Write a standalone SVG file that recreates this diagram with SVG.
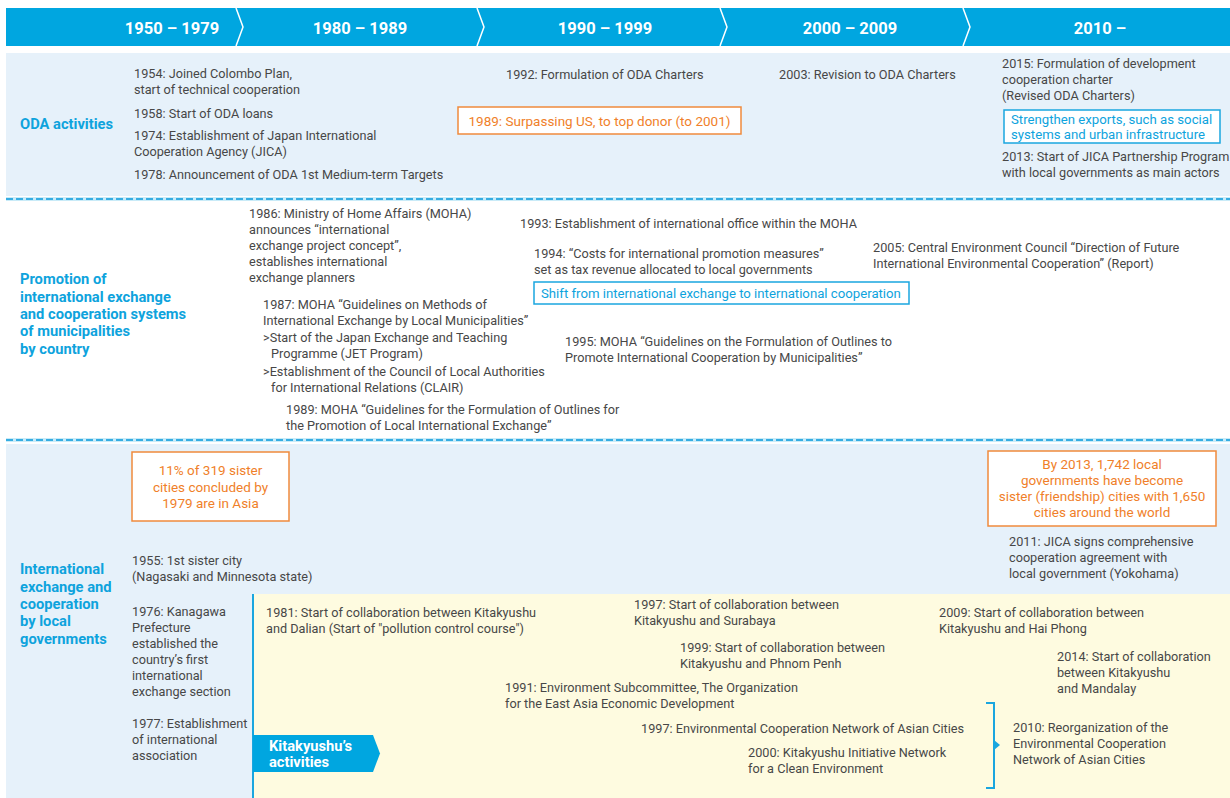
<svg xmlns="http://www.w3.org/2000/svg" width="1230" height="798" viewBox="0 0 1230 798">
<defs>
<style>
.t{font-family:Roboto,"Liberation Sans",sans-serif;font-size:12.7px;fill:#474747}
.h{font-family:Roboto,"Liberation Sans",sans-serif;font-size:16.5px;font-weight:bold;fill:#fff;text-anchor:middle}
.lb{font-family:Roboto,"Liberation Sans",sans-serif;font-size:14.7px;font-weight:bold;fill:#0ea3dd}
.o{font-family:Roboto,"Liberation Sans",sans-serif;font-size:13.5px;fill:#f07f2a}
.b{font-family:Roboto,"Liberation Sans",sans-serif;font-size:13.2px;fill:#0ea3dd}
.ob{fill:#fff;stroke:#f08a3c;stroke-width:1.5}
.bb{fill:#fff;stroke:#1aa6df;stroke-width:1.5}
.dash{stroke:#35ade2;stroke-width:2;stroke-dasharray:7 3;fill:none}
.halo{stroke:#c9ebf8;stroke-width:4;fill:none}
</style>
</defs>
<rect width="1230" height="798" fill="#fff"/>
<!-- header -->
<g id="header">
<rect x="6" y="8" width="1224" height="38" fill="#00a6e0"/>
<polyline points="236,8 243,27 236,46" fill="none" stroke="#fff" stroke-width="1.5"/>
<polyline points="477,8 484,27 477,46" fill="none" stroke="#fff" stroke-width="1.5"/>
<polyline points="720,8 727,27 720,46" fill="none" stroke="#fff" stroke-width="1.5"/>
<polyline points="963,8 970,27 963,46" fill="none" stroke="#fff" stroke-width="1.5"/>
<text class="h" x="172" y="34">1950 – 1979</text>
<text class="h" x="360" y="34">1980 – 1989</text>
<text class="h" x="605" y="34">1990 – 1999</text>
<text class="h" x="850" y="34">2000 – 2009</text>
<text class="h" x="1100" y="34">2010 –</text>
</g>
<!-- backgrounds -->
<rect x="6" y="53" width="1224" height="143" fill="#e6f1fa"/>
<line class="halo" x1="6" y1="199" x2="1230" y2="199"/>
<line class="dash" x1="6" y1="199" x2="1230" y2="199"/>
<line class="halo" x1="6" y1="440" x2="1230" y2="440"/>
<line class="dash" x1="6" y1="440" x2="1230" y2="440"/>
<rect x="6" y="444" width="1224" height="354" fill="#e6f1fa"/>
<rect x="253" y="594" width="977" height="204" fill="#fefbe0"/>
<line x1="253" y1="594" x2="253" y2="798" stroke="#1aa6df" stroke-width="2"/>

<!-- ODA row -->
<g id="oda-label"><text class="lb" x="20" y="129">ODA activities</text></g>
<g id="oda-1954"><text class="t" x="134" y="78">1954: Joined Colombo Plan,</text><text class="t" x="134" y="94">start of technical cooperation</text></g>
<g id="oda-1958"><text class="t" x="134" y="118">1958: Start of ODA loans</text></g>
<g id="oda-1974"><text class="t" x="134" y="140">1974: Establishment of Japan International</text><text class="t" x="134" y="156">Cooperation Agency (JICA)</text></g>
<g id="oda-1978"><text class="t" x="134" y="179">1978: Announcement of ODA 1st Medium-term Targets</text></g>
<g id="oda-1992"><text class="t" x="506" y="79">1992: Formulation of ODA Charters</text></g>
<g id="oda-1989"><rect class="ob" x="458" y="107" width="283" height="27"/><text class="o" x="599.5" y="126" text-anchor="middle">1989: Surpassing US, to top donor (to 2001)</text></g>
<g id="oda-2003"><text class="t" x="779" y="79">2003: Revision to ODA Charters</text></g>
<g id="oda-2015"><text class="t" x="1002" y="68">2015: Formulation of development</text><text class="t" x="1002" y="84">cooperation charter</text><text class="t" x="1002" y="100">(Revised ODA Charters)</text></g>
<g id="oda-exports"><rect class="bb" x="1004" y="110" width="216" height="33"/><text class="b" x="1011" y="124">Strengthen exports, such as social</text><text class="b" x="1011" y="139">systems and urban infrastructure</text></g>
<g id="oda-2013"><text class="t" x="1002" y="161">2013: Start of JICA Partnership Program</text><text class="t" x="1002" y="177">with local governments as main actors</text></g>

<!-- Promotion row -->
<g id="promo-label"><text class="lb" x="20" y="284">Promotion of</text><text class="lb" x="20" y="302">international exchange</text><text class="lb" x="20" y="319">and cooperation systems</text><text class="lb" x="20" y="336">of municipalities</text><text class="lb" x="20" y="354">by country</text></g>
<g id="promo-1986"><text class="t" x="249" y="218">1986: Ministry of Home Affairs (MOHA)</text><text class="t" x="249" y="234">announces “international</text><text class="t" x="249" y="250">exchange project concept”,</text><text class="t" x="249" y="266">establishes international</text><text class="t" x="249" y="282">exchange planners</text></g>
<g id="promo-1987"><text class="t" x="263" y="309">1987: MOHA “Guidelines on Methods of</text><text class="t" x="263" y="325">International Exchange by Local Municipalities”</text><text class="t" x="263" y="342">&gt;Start of the Japan Exchange and Teaching</text><text class="t" x="271" y="358">Programme (JET Program)</text><text class="t" x="263" y="376">&gt;Establishment of the Council of Local Authorities</text><text class="t" x="271" y="392">for International Relations (CLAIR)</text></g>
<g id="promo-1989"><text class="t" x="286" y="414">1989: MOHA “Guidelines for the Formulation of Outlines for</text><text class="t" x="286" y="430">the Promotion of Local International Exchange”</text></g>
<g id="promo-1993"><text class="t" x="520" y="228">1993: Establishment of international office within the MOHA</text></g>
<g id="promo-1994"><text class="t" x="534" y="258">1994: “Costs for international promotion measures”</text><text class="t" x="534" y="274">set as tax revenue allocated to local governments</text></g>
<g id="promo-shift"><rect class="bb" x="534" y="282" width="375" height="22"/><text class="b" x="541" y="298">Shift from international exchange to international cooperation</text></g>
<g id="promo-1995"><text class="t" x="565" y="346">1995: MOHA “Guidelines on the Formulation of Outlines to</text><text class="t" x="565" y="362">Promote International Cooperation by Municipalities”</text></g>
<g id="promo-2005"><text class="t" x="873" y="252">2005: Central Environment Council “Direction of Future</text><text class="t" x="873" y="268">International Environmental Cooperation” (Report)</text></g>

<!-- Local governments row -->
<g id="local-label"><text class="lb" x="20" y="574">International</text><text class="lb" x="20" y="592">exchange and</text><text class="lb" x="20" y="609">cooperation</text><text class="lb" x="20" y="626">by local</text><text class="lb" x="20" y="644">governments</text></g>
<g id="local-11pct"><rect class="ob" x="132" y="452" width="157" height="69"/><text class="o" x="210.5" y="475" text-anchor="middle">11% of 319 sister</text><text class="o" x="210.5" y="492" text-anchor="middle">cities concluded by</text><text class="o" x="210.5" y="508" text-anchor="middle">1979 are in Asia</text></g>
<g id="local-2013"><rect class="ob" x="988" y="451" width="228" height="75"/><text class="o" x="1102" y="469" text-anchor="middle">By 2013, 1,742 local</text><text class="o" x="1102" y="485" text-anchor="middle">governments have become</text><text class="o" x="1102" y="501" text-anchor="middle">sister (friendship) cities with 1,650</text><text class="o" x="1102" y="517" text-anchor="middle">cities around the world</text></g>
<g id="local-2011"><text class="t" x="1009" y="546">2011: JICA signs comprehensive</text><text class="t" x="1009" y="562">cooperation agreement with</text><text class="t" x="1009" y="578">local government (Yokohama)</text></g>
<g id="local-1955"><text class="t" x="132" y="565">1955: 1st sister city</text><text class="t" x="132" y="581">(Nagasaki and Minnesota state)</text></g>
<g id="local-1976"><text class="t" x="132" y="616">1976: Kanagawa</text><text class="t" x="132" y="632">Prefecture</text><text class="t" x="132" y="648">established the</text><text class="t" x="132" y="664">country’s first</text><text class="t" x="132" y="680">international</text><text class="t" x="132" y="696">exchange section</text></g>
<g id="local-1977"><text class="t" x="132" y="728">1977: Establishment</text><text class="t" x="132" y="744">of international</text><text class="t" x="132" y="760">association</text></g>
<g id="kitakyushu-tag"><polygon points="253,735 373,735 380,753.5 373,772 253,772" fill="#00a6e0"/><text class="lb" x="269" y="751" style="fill:#fff;font-size:14.7px">Kitakyushu’s</text><text class="lb" x="269" y="767" style="fill:#fff;font-size:14.7px">activities</text></g>
<g id="kk-1981"><text class="t" x="266" y="617">1981: Start of collaboration between Kitakyushu</text><text class="t" x="266" y="633">and Dalian (Start of "pollution control course")</text></g>
<g id="kk-1997s"><text class="t" x="634" y="609">1997: Start of collaboration between</text><text class="t" x="634" y="625">Kitakyushu and Surabaya</text></g>
<g id="kk-1999"><text class="t" x="680" y="652">1999: Start of collaboration between</text><text class="t" x="680" y="668">Kitakyushu and Phnom Penh</text></g>
<g id="kk-1991"><text class="t" x="505" y="692">1991: Environment Subcommittee, The Organization</text><text class="t" x="505" y="708">for the East Asia Economic Development</text></g>
<g id="kk-1997n"><text class="t" x="641" y="733">1997: Environmental Cooperation Network of Asian Cities</text></g>
<g id="kk-2000"><text class="t" x="748" y="757">2000: Kitakyushu Initiative Network</text><text class="t" x="748" y="773">for a Clean Environment</text></g>
<g id="kk-2009"><text class="t" x="939" y="617">2009: Start of collaboration between</text><text class="t" x="939" y="633">Kitakyushu and Hai Phong</text></g>
<g id="kk-2014"><text class="t" x="1057" y="661">2014: Start of collaboration</text><text class="t" x="1057" y="677">between Kitakyushu</text><text class="t" x="1057" y="693">and Mandalay</text></g>
<g id="kk-2010"><text class="t" x="1013" y="732">2010: Reorganization of the</text><text class="t" x="1013" y="748">Environmental Cooperation</text><text class="t" x="1013" y="764">Network of Asian Cities</text></g>
<g id="connectors">
<polyline points="986,703 994,703 994,788 986,788" fill="none" stroke="#1aa6df" stroke-width="2"/>
<polygon points="994,740 1000,745 994,750" fill="#1aa6df"/>
</g>
</svg>
